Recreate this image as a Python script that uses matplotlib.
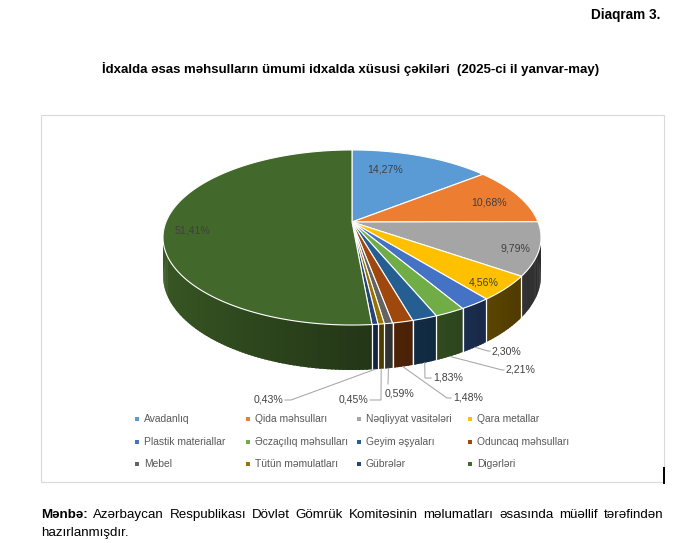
import numpy as np
import matplotlib
matplotlib.use("Agg")
import matplotlib.pyplot as plt
from matplotlib import font_manager
from matplotlib.patches import Polygon, Rectangle
from matplotlib.colors import to_rgb

# --- data ---------------------------------------------------------------
categories = ["Avadanlıq", "Qida məhsulları", "Nəqliyyat vasitələri", "Qara metallar",
              "Plastik materiallar", "Əczaçılıq məhsulları", "Geyim əşyaları",
              "Oduncaq məhsulları", "Mebel", "Tütün məmulatları", "Gübrələr", "Digərləri"]
shares = [14.27, 10.68, 9.79, 4.56, 2.30, 2.21, 1.83, 1.48, 0.59, 0.45, 0.43, 51.41]
colors = ["#5B9BD5", "#ED7D31", "#A5A5A5", "#FFC000", "#4472C4", "#70AD47",
          "#255E91", "#9E480E", "#636363", "#997300", "#264478", "#43682B"]

title = "İdxalda əsas məhsulların ümumi idxalda xüsusi çəkiləri  (2025-ci il yanvar-may)"
source_bold = "Mənbə:"
source_rest = ("Azərbaycan Respublikası Dövlət Gömrük Komitəsinin məlumatları "
               "əsasında müəllif tərəfindən")
source_line2 = "hazırlanmışdır."

plt.rcParams['font.family'] = ['Liberation Sans', 'DejaVu Sans']

# narrow face for the headings if it is there
installed = {f.name for f in font_manager.fontManager.ttflist}
head_family = ['Liberation Sans Narrow', 'Liberation Sans'] if 'Liberation Sans Narrow' in installed \
    else ['Liberation Sans', 'DejaVu Sans']

# --- pie geometry (pixels, y down) -------------------------------------
CX, CY = 352, 222
RX, RY = 186, 84.8
K = 0.177        # perspective
DEPTH = 37


def proj(theta, r=1.0, dz=0.0):
    u = r * np.sin(theta)
    v = r * np.cos(theta)
    s = 1.0 / (1.0 + K * v)
    return CX + RX * u * s, CY - RY * v * s + dz * s


def darker(c, f):
    return tuple(np.clip(np.array(to_rgb(c)) * f, 0, 1))


fig = plt.figure(figsize=(6.76, 5.43), dpi=100)
ax = fig.add_axes([0, 0, 1, 1])
ax.set_xlim(0, 676)
ax.set_ylim(543, 0)
ax.axis("off")

edges = np.concatenate([[0], np.cumsum(shares)]) / 100.0 * 2 * np.pi

# side walls, far to near; each strip overlaps the next a little so no seams show
quads = []
for i in range(len(shares)):
    a0, a1 = edges[i], edges[i + 1]
    n = max(2, int(np.degrees(a1 - a0)) + 1)
    ts = np.linspace(a0, a1, n + 1)
    step = ts[1] - ts[0]
    for j, (t0, t1) in enumerate(zip(ts[:-1], ts[1:])):
        tm = 0.5 * (t0 + t1)
        if np.cos(tm) > 0.2:
            continue
        t1x = t1 + 0.6 * step if j < n - 1 else t1
        quads.append((np.cos(tm), i, t0, t1x, tm))
quads.sort(key=lambda q: -q[0])
for v, i, t0, t1, tm in quads:
    f = 0.55 - 0.3 * np.sin(tm)
    col = darker(colors[i], f)
    tt = np.linspace(t0, t1, 3)
    p = [proj(t) for t in tt] + [proj(t, dz=DEPTH) for t in tt[::-1]]
    ax.add_patch(Polygon(p, closed=True, facecolor=col, edgecolor="none", lw=0, zorder=2))

# white separators on the visible wall
for a in edges[1:-1]:
    if np.cos(a) < -0.2:
        x0, y0 = proj(a)
        x1, y1 = proj(a, dz=DEPTH)
        ax.plot([x0, x1], [y0, y1], color="white", lw=0.9, zorder=3)

# top faces
for i in range(len(shares)):
    ts = np.linspace(edges[i], edges[i + 1], max(3, int(np.degrees(edges[i + 1] - edges[i])) + 2))
    pts = [proj(0, 0)] + [proj(t) for t in ts]
    ax.add_patch(Polygon(pts, closed=True, facecolor=colors[i], edgecolor="white",
                         lw=0.8, zorder=4))


def pct(v):
    return f"{v:.2f}%".replace(".", ",")


# inside labels: (index, radius fraction, pixel nudge)
inside = [(0, 0.62, (-12, -9)), (1, 0.80, (3, 2)), (2, 0.88, (0, 3)),
          (3, 0.88, (-2, 3)), (11, 0.86, (1, 5))]
for i, r, (dx, dy) in inside:
    tm = 0.5 * (edges[i] + edges[i + 1])
    x, y = proj(tm, r)
    ax.text(x + dx, y + dy, pct(shares[i]), ha="center", va="center",
            fontsize=7.6, color="#404040", zorder=6)

# outside labels with leader lines: (index, text x, text y, ha, elbow)
outside = [(4, 492, 351, "left", (488, 351)),
           (5, 506, 370, "left", (502, 370)),
           (6, 433, 378, "left", (425, 378)),
           (7, 453, 398, "left", (447, 398)),
           (8, 385, 393, "left", (388, 384)),
           (9, 368, 399, "right", (381, 400)),
           (10, 283, 399, "right", (291, 400))]
for i, tx, ty, ha, (ex, ey) in outside:
    tm = 0.5 * (edges[i] + edges[i + 1])
    axp, ayp = proj(tm, 1.0, DEPTH)
    if i == 8:
        xs, ys = [axp, ex], [ayp, ey]
    else:
        end = tx - 2 if ha == "left" else tx + 2
        xs, ys = [axp, ex, end], [ayp, ey, ey]
    ax.plot(xs, ys, color="#A6A6A6", lw=0.75, zorder=5)
    ax.text(tx, ty, pct(shares[i]), ha=ha, va="center", fontsize=7.6,
            color="#404040", zorder=6)

# legend (row-major, equal column widths)
leg_x0, leg_dx = 137, 111
leg_y0, leg_dy = 419, 22.7
for k, name in enumerate(categories):
    row, colm = divmod(k, 4)
    x = leg_x0 + colm * leg_dx
    y = leg_y0 + row * leg_dy
    ax.add_patch(Rectangle((x - 2, y - 2), 4, 4, facecolor=colors[k], edgecolor="none", zorder=6))
    ax.text(x + 7, y, name, ha="left", va="center", fontsize=7.4, color="#595959", zorder=6)

# chart area border
ax.add_patch(Rectangle((41, 115), 623, 367, fill=False, edgecolor="#D9D9D9", lw=0.8, zorder=1))
ax.plot([664, 664], [468, 483], color="black", lw=1.4, zorder=7)

renderer = fig.canvas.get_renderer()


def fit_text(x, y, s, width, ha, **kw):
    t = ax.text(x, y, s, ha=ha, va="center", **kw)
    w = t.get_window_extent(renderer).width
    t.set_fontsize(t.get_fontsize() * width / w)
    return t


fit_text(351, 69, title, 498, "center", fontsize=9, fontweight="bold",
         color="black", family=head_family)
fit_text(660, 15, "Diaqram 3.", 70, "right", fontsize=9, fontweight="bold",
         color="black", family=head_family)

# justified source line
fs = 9.6
words = [(source_bold, "bold")] + [(w, "normal") for w in source_rest.split()]
widths = []
for w, fw in words:
    t = ax.text(0, 0, w, fontsize=fs, fontweight=fw)
    widths.append(t.get_window_extent(renderer).width)
    t.remove()
left, right = 41, 663
gap = (right - left - sum(widths)) / (len(words) - 1)
x = left
for (w, fw), wd in zip(words, widths):
    ax.text(x, 515, w, ha="left", va="center", fontsize=fs, fontweight=fw, color="black")
    x += wd + gap
ax.text(left, 533, source_line2, ha="left", va="center", fontsize=fs, color="black")

fig.savefig("out.png", dpi=100)
